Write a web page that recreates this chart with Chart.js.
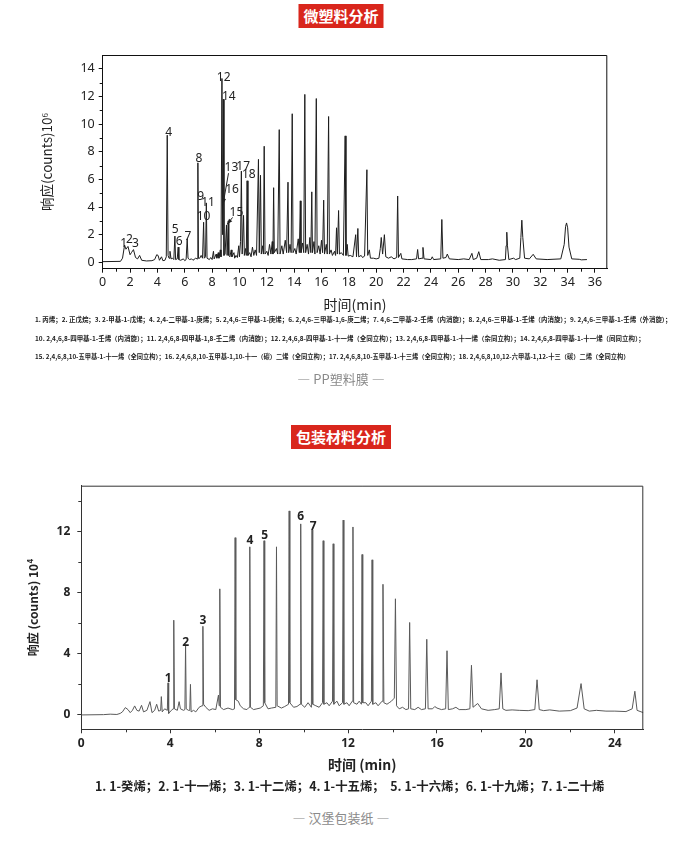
<!DOCTYPE html>
<html lang="zh">
<head>
<meta charset="UTF-8">
<title>微塑料分析 / 包装材料分析</title>
<script src="https://cdn.jsdelivr.net/npm/chart.js"></script>
<style>
  body { margin: 0; width: 682px; height: 844px; background: #fff; position: relative; overflow: hidden;
         font-family: "Noto Sans CJK SC", "Noto Sans", sans-serif; }
  .tag { position: absolute; left: 50%; transform: translateX(-50%); background: #d9261c; color: #fff;
         font-weight: bold; font-size: 15px; line-height: 24px; height: 24px; padding: 0 5px; white-space: nowrap; }
  .plot { position: absolute; left: 0; }
  .note { position: absolute; left: 35px; font-weight: bold; color: #222; white-space: nowrap; line-height: 1; }
  .cap { position: absolute; left: 0; width: 682px; text-align: center; color: #8a8a8a; font-size: 13px; line-height: 1; }
</style>
</head>
<body>
  <div class="tag" style="top:4px">微塑料分析</div>
  <div class="plot" style="top:40px"><canvas id="ppChart" width="682" height="280"></canvas></div>
  <div class="note" id="n1" data-w="637" style="top:317px;font-size:7px">1. 丙烯；2. 正戊烷；3. 2-甲基-1-戊烯；4. 2,4-二甲基-1-庚烯；5. 2,4,6-三甲基-1-庚烯；6. 2,4,6-三甲基-1,6-庚二烯；7. 4,6-二甲基-2-壬烯（内消旋）；8. 2,4,6-三甲基-1-壬烯（内消旋）；9. 2,4,6-三甲基-1-壬烯（外消旋）；</div>
  <div class="note" id="n2" data-w="611" style="top:335px;font-size:7px">10. 2,4,6,8-四甲基-1-壬烯（内消旋）；11. 2,4,6,8-四甲基-1,8-壬二烯（内消旋）；12. 2,4,6,8-四甲基-1-十一烯（全同立构）；13. 2,4,6,8-四甲基-1-十一烯（杂同立构）；14. 2,4,6,8-四甲基-1-十一烯（间同立构）；</div>
  <div class="note" id="n3" data-w="595" style="top:354px;font-size:7px">15. 2,4,6,8,10-五甲基-1-十一烯（全同立构）；16. 2,4,6,8,10-五甲基-1,10-十一（碳）二烯（全同立构）；17. 2,4,6,8,10-五甲基-1-十三烯（全同立构）；18. 2,4,6,8,10,12-六甲基-1,12-十三（碳）二烯（全同立构）</div>
  <div class="cap" style="top:372px">— PP塑料膜 —</div>

  <div class="tag" style="top:425px">包装材料分析</div>
  <div class="plot" style="top:470px"><canvas id="paperChart" width="682" height="310"></canvas></div>
  <div class="note" id="n4" data-w="510" style="top:780px;left:95px;font-size:12px">1. 1-癸烯；2. 1-十一烯；3. 1-十二烯；4. 1-十五烯；&nbsp; 5. 1-十六烯；6. 1-十九烯；7. 1-二十烯</div>
  <div class="cap" style="top:811px">— 汉堡包装纸 —</div>

<script>
// ---- PP film chromatogram (response x10^6) ----
var ppTime = [0, 1.3, 1.45, 1.6, 1.7, 1.85, 2.0, 2.1, 2.25, 2.4, 2.55, 2.7, 2.85, 3.2, 3.6, 3.8, 3.95, 4.05, 4.15, 4.3,
  4.4, 4.55, 4.65, 4.72, 4.78, 4.85, 4.92, 5.0, 5.1, 5.2, 5.28, 5.33, 5.45, 5.52, 5.57, 5.7, 5.9, 6.0, 6.1, 6.18,
  6.24, 6.35, 6.5, 6.6, 6.8, 6.9, 6.96, 7.0, 7.1, 7.2, 7.3, 7.38, 7.43, 7.52, 7.58, 7.63, 7.8, 7.9, 8.0, 8.1,
  8.15, 8.3, 8.35, 8.45, 8.5, 8.6, 8.65, 8.72, 8.77, 8.82, 8.87, 8.95, 9.05, 9.1, 9.18, 9.22, 9.3, 9.4, 9.45, 9.6,
  9.65, 9.75, 9.85, 9.95, 10.0, 10.08, 10.14, 10.2, 10.3, 10.36, 10.45, 10.5, 10.56, 10.62, 10.75, 10.85, 10.95, 11.05, 11.15, 11.25,
  11.39, 11.45, 11.54, 11.6, 11.7, 11.75, 11.81, 11.87, 12.0, 12.1, 12.2, 12.3, 12.4, 12.45, 12.5, 12.55, 12.7, 12.8, 12.91, 12.97,
  13.1, 13.2, 13.35, 13.45, 13.55, 13.6, 13.7, 13.78, 13.86, 13.92, 14.05, 14.15, 14.3, 14.38, 14.45, 14.5, 14.62, 14.7, 14.78, 14.84,
  14.95, 15.05, 15.15, 15.22, 15.29, 15.34, 15.45, 15.52, 15.62, 15.68, 15.8, 15.9, 16.0, 16.08, 16.16, 16.22, 16.35, 16.42, 16.52, 16.58,
  16.7, 16.8, 16.95, 17.03, 17.1, 17.16, 17.25, 17.31, 17.45, 17.6, 17.73, 17.79, 17.88, 17.95, 18.1, 18.3, 18.5, 18.56, 18.66, 18.72,
  18.9, 19.0, 19.15, 19.32, 19.38, 19.5, 19.58, 19.8, 20.0, 20.2, 20.3, 20.37, 20.47, 20.6, 20.7, 20.9, 21.1, 21.3, 21.5, 21.57,
  21.63, 21.8, 21.88, 22.3, 22.6, 22.95, 23.03, 23.1, 23.35, 23.42, 23.5, 24.0, 24.1, 24.2, 24.72, 24.8, 24.88, 25.1, 25.2, 25.35,
  26.0, 26.4, 26.8, 27.0, 27.1, 27.35, 27.5, 27.65, 28.2, 28.5, 29.0, 29.45, 29.5, 29.55, 29.6, 29.7, 30.04, 30.2, 30.5, 30.58,
  30.65, 30.72, 30.85, 31.2, 31.48, 31.7, 32.5, 33.5, 33.75, 33.85, 33.92, 34.0, 34.1, 34.3, 34.85, 35.0, 35.41];
var ppResp = [0.05, 0.07, 0.3, 1.25, 0.95, 1.15, 0.55, 0.7, 0.92, 0.35, 0.25, 0.5, 0.15, 0.1, 0.12, 0.2, 0.55, 0.5, 0.15, 0.4,
  0.12, 0.15, 0.4, 9.2, 0.5, 0.3, 0.8, 0.25, 0.3, 0.2, 1.9, 0.2, 0.25, 1.1, 0.2, 0.15, 0.25, 0.12, 0.2, 1.7,
  0.3, 0.2, 0.25, 0.15, 0.3, 0.25, 7.2, 0.3, 0.3, 0.5, 0.3, 2.9, 0.3, 0.4, 4.3, 0.3, 0.2, 0.35, 0.2, 0.8,
  0.25, 0.6, 0.3, 0.7, 0.3, 0.9, 0.4, 13.3, 2.0, 11.8, 0.5, 0.6, 2.7, 0.5, 3.0, 0.5, 0.4, 0.9, 0.4, 0.7,
  0.3, 0.5, 0.35, 1.2, 0.4, 1.5, 6.6, 0.6, 3.4, 0.5, 1.0, 0.5, 5.9, 0.5, 0.7, 0.4, 1.1, 0.5, 0.9, 0.5,
  7.45, 0.7, 6.3, 0.6, 1.2, 0.6, 8.4, 0.6, 0.8, 0.5, 1.3, 0.6, 1.5, 0.6, 5.4, 0.7, 1.0, 0.6, 9.6, 0.6,
  1.2, 0.6, 1.6, 0.7, 5.8, 0.7, 1.3, 0.7, 10.75, 0.7, 1.0, 0.6, 1.7, 0.7, 4.45, 0.7, 1.4, 0.7, 12.15, 0.7,
  1.3, 0.6, 1.8, 0.7, 5.1, 0.7, 1.5, 0.6, 11.85, 0.7, 1.2, 0.6, 1.6, 0.7, 4.5, 0.6, 1.3, 0.6, 10.55, 0.6,
  0.9, 0.5, 0.8, 0.5, 2.5, 0.6, 3.75, 0.6, 0.7, 0.5, 9.15, 0.5, 1.3, 0.45, 0.5, 0.4, 2.0, 0.4, 2.45, 0.4,
  0.5, 0.35, 0.45, 6.7, 0.5, 0.9, 0.3, 0.3, 0.25, 0.3, 1.0, 1.8, 0.6, 2.0, 0.4, 0.3, 0.4, 0.25, 0.35, 4.8,
  0.35, 0.65, 0.25, 0.2, 0.2, 0.25, 0.93, 0.25, 0.3, 1.08, 0.25, 0.2, 0.4, 0.2, 0.25, 3.1, 0.3, 0.35, 0.6, 0.25,
  0.2, 0.25, 0.2, 0.65, 0.2, 0.3, 0.77, 0.2, 0.2, 0.25, 0.15, 0.2, 1.2, 2.18, 1.2, 0.2, 0.3, 0.2, 0.3, 1.8,
  3.05, 1.8, 0.3, 0.25, 0.58, 0.25, 0.2, 0.25, 1.3, 2.6, 2.85, 2.5, 1.1, 0.25, 0.22, 0.18, 0.2];
var ppTickX = [0, 2, 4, 6, 8, 10, 12, 14, 16, 18, 20, 22, 24, 26, 28, 30, 32, 34, 36];
var ppMinorX = [1, 3, 5, 7, 9, 11, 13, 15, 17, 19, 21, 23, 25, 27, 29, 31, 33, 35];
var ppTickY = [0, 2, 4, 6, 8, 10, 12, 14];
var ppMinorY = [1, 3, 5, 7, 9, 11, 13];
var ppPeakNo = ['1', '2', '3', '4', '5', '6', '7', '8', '9', '10', '11', '12', '13', '14', '15', '16', '17', '18'];
var ppPeakT = [1.54, 1.96, 2.4, 4.82, 5.3, 5.6, 6.23, 7.04, 7.16, 7.38, 7.7, 8.85, 9.41, 9.22, 9.78, 9.46, 10.27, 10.68];
var ppPeakV = [1.38, 1.67, 1.38, 9.4, 2.35, 1.5, 1.86, 7.54, 4.76, 3.31, 4.35, 13.35, 6.87, 11.97, 3.63, 5.3, 6.94, 6.33];
// arrows: from label to peak (13 and 15)
var ppArrowFrom = [[9.2, 6.45], [9.5, 3.25]];
var ppArrowTo = [[8.8, 4.2], [9.1, 2.75]];

// ---- hamburger paper chromatogram (response x10^4) ----
var paperTime = [0, 1.0, 1.3, 1.6, 1.75, 1.85, 1.98, 2.1, 2.2, 2.3, 2.4, 2.5, 2.6, 2.71, 2.8, 2.95, 3.09, 3.18, 3.3, 3.39,
  3.48, 3.57, 3.6, 3.64, 3.75, 3.87, 3.9, 3.93, 4.05, 4.13, 4.16, 4.19, 4.32, 4.4, 4.46, 4.6, 4.66, 4.69, 4.72, 4.82,
  4.88, 4.91, 4.94, 5.05, 5.15, 5.3, 5.43, 5.47, 5.5, 5.6, 5.75, 5.9, 6.05, 6.17, 6.2, 6.23, 6.26, 6.4, 6.6, 6.8,
  6.89, 6.92, 6.95, 7.06, 7.15, 7.3, 7.45, 7.55, 7.58, 7.61, 7.75, 7.9, 8.05, 8.19, 8.22, 8.25, 8.4, 8.55, 8.75, 8.78,
  8.81, 9.0, 9.15, 9.32, 9.35, 9.38, 9.55, 9.7, 9.84, 9.87, 9.9, 10.05, 10.2, 10.35, 10.38, 10.41, 10.55, 10.7, 10.85, 10.88,
  10.91, 11.05, 11.15, 11.3, 11.33, 11.36, 11.5, 11.6, 11.75, 11.78, 11.81, 11.95, 12.05, 12.19, 12.22, 12.25, 12.4, 12.5, 12.6, 12.63,
  12.66, 12.8, 12.9, 13.05, 13.08, 13.11, 13.25, 13.35, 13.53, 13.57, 13.61, 13.75, 13.85, 13.95, 14.08, 14.13, 14.18, 14.3, 14.45, 14.6,
  14.72, 14.77, 14.82, 15.0, 15.15, 15.3, 15.48, 15.54, 15.6, 15.8, 15.9, 16.0, 16.2, 16.39, 16.45, 16.51, 16.7, 16.85, 17.0, 17.3,
  17.48, 17.55, 17.62, 17.83, 18.0, 18.3, 18.6, 18.8, 18.88, 18.96, 19.1, 19.38, 19.7, 20.1, 20.4, 20.5, 20.6, 20.8, 21.07, 21.5,
  22.0, 22.3, 22.48, 22.62, 22.85, 23.17, 23.6, 24.0, 24.5, 24.78, 24.9, 25.0, 25.28];
var paperResp = [0, 0.02, 0.05, 0.03, 0.1, 0.2, 0.48, 0.35, 0.15, 0.3, 0.59, 0.3, 0.25, 0.63, 0.2, 0.3, 0.87, 0.15, 0.3, 0.7,
  0.25, 0.3, 1.2, 0.2, 0.4, 0.3, 2.1, 0.1, 0.3, 0.4, 6.2, 0.4, 0.3, 0.87, 0.4, 0.3, 0.35, 4.6, 0.4, 0.3,
  0.3, 2.0, 0.2, 0.3, 0.2, 0.5, 0.6, 5.8, 0.7, 0.5, 0.3, 0.4, 0.35, 1.3, 0.6, 8.25, 0.5, 0.35, 0.45, 0.35,
  0.4, 11.6, 1.0, 0.9, 0.6, 0.4, 0.35, 0.5, 11.0, 0.5, 0.35, 0.4, 0.45, 0.6, 11.4, 0.8, 0.4, 0.45, 0.5, 11.0,
  0.6, 0.45, 0.55, 0.7, 13.35, 0.8, 0.5, 0.55, 0.7, 12.5, 0.7, 0.5, 0.8, 0.5, 12.1, 0.7, 0.6, 0.5, 0.8, 11.4,
  0.7, 0.8, 0.6, 0.9, 11.2, 0.7, 0.9, 0.6, 0.8, 12.75, 0.7, 0.8, 0.6, 0.9, 12.3, 0.8, 0.7, 0.9, 0.7, 10.5,
  0.8, 0.8, 0.6, 0.9, 10.15, 0.7, 0.8, 0.6, 0.9, 8.55, 0.8, 0.7, 0.8, 0.9, 1.1, 7.6, 0.6, 0.4, 0.5, 0.35,
  0.4, 6.05, 0.4, 0.35, 0.5, 0.35, 0.4, 4.95, 0.4, 0.4, 0.55, 0.45, 0.35, 0.4, 4.2, 0.35, 0.4, 0.5, 0.35, 0.35,
  0.4, 3.25, 0.5, 0.75, 0.4, 0.3, 0.35, 0.4, 2.75, 0.4, 0.3, 0.33, 0.3, 0.28, 0.35, 2.3, 0.35, 0.28, 0.33, 0.25,
  0.28, 0.45, 2.05, 0.4, 0.25, 0.3, 0.25, 0.25, 0.22, 0.4, 1.55, 0.3, 0.15];
var paperTickX = [0, 4, 8, 12, 16, 20, 24];
var paperMinorX = [2, 6, 10, 14, 18, 22];
var paperTickY = [0, 4, 8, 12];
var paperMinorY = [2, 6, 10, 14];
var paperPeakNo = ['1', '2', '3', '4', '5', '6', '7'];
var paperPeakT = [3.91, 4.69, 5.47, 7.58, 8.25, 9.87, 10.43];
var paperPeakV = [2.4, 4.75, 6.2, 11.4, 11.76, 12.96, 12.35];

function xy(ts, vs) { return ts.map(function (t, i) { return { x: t, y: vs[i] }; }); }

// box border, minor ticks, peak numbers and arrows
var marks = {
  id: 'marks',
  afterDraw: function (chart, args, o) {
    var ctx = chart.ctx, a = chart.chartArea, x = chart.scales.x, y = chart.scales.y;
    ctx.save();
    ctx.strokeStyle = o.axisColor;
    ctx.lineWidth = 1;
    ctx.beginPath();
    ctx.moveTo(a.left, a.top + 0.5); ctx.lineTo(a.right - 0.5, a.top + 0.5); ctx.lineTo(a.right - 0.5, a.bottom);
    o.minorX.forEach(function (v) { var px = Math.round(x.getPixelForValue(v)) + 0.5; ctx.moveTo(px, a.bottom); ctx.lineTo(px, a.bottom + 3); });
    o.minorY.forEach(function (v) { var py = Math.round(y.getPixelForValue(v)) + 0.5; ctx.moveTo(a.left, py); ctx.lineTo(a.left - 3, py); });
    ctx.stroke();

    ctx.fillStyle = '#222';
    ctx.font = o.labelFont;
    ctx.textAlign = 'center';
    ctx.textBaseline = 'middle';
    o.labels.forEach(function (s, i) {
      ctx.fillText(s, x.getPixelForValue(o.labelT[i]), y.getPixelForValue(o.labelV[i]));
    });

    ctx.strokeStyle = '#222';
    (o.arrowFrom || []).forEach(function (f, i) {
      var t = o.arrowTo[i];
      var x0 = x.getPixelForValue(f[0]), y0 = y.getPixelForValue(f[1]);
      var x1 = x.getPixelForValue(t[0]), y1 = y.getPixelForValue(t[1]);
      var ang = Math.atan2(y1 - y0, x1 - x0);
      ctx.beginPath(); ctx.moveTo(x0, y0); ctx.lineTo(x1, y1); ctx.stroke();
      ctx.beginPath();
      ctx.moveTo(x1, y1);
      ctx.lineTo(x1 - 6 * Math.cos(ang - 0.35), y1 - 6 * Math.sin(ang - 0.35));
      ctx.lineTo(x1 - 6 * Math.cos(ang + 0.35), y1 - 6 * Math.sin(ang + 0.35));
      ctx.closePath(); ctx.fill();
    });
    ctx.restore();
  }
};

function makeChart(id, cfg) {
  var tickFont = { family: 'Noto Sans', size: cfg.tickSize, weight: cfg.bold ? 'bold' : 'normal' };
  return new Chart(document.getElementById(id), {
    type: 'line',
    data: { datasets: [{ data: cfg.data, borderColor: cfg.lineColor, borderWidth: 1, pointRadius: 0, tension: 0, fill: false }] },
    plugins: [marks],
    options: {
      responsive: false,
      devicePixelRatio: 1,
      animation: false,
      parsing: false,
      layout: { padding: cfg.pad },
      plugins: {
        legend: { display: false },
        tooltip: { enabled: false },
        marks: cfg.marks
      },
      scales: {
        x: {
          type: 'linear', min: 0, max: cfg.xMax,
          afterBuildTicks: function (s) { s.ticks = cfg.tickX.map(function (v) { return { value: v }; }); },
          afterFit: function (s) { s.height = cfg.xH; },
          ticks: { autoSkip: false, maxRotation: 0, padding: cfg.xPad, color: '#222', font: tickFont },
          grid: { display: true, drawOnChartArea: false, drawTicks: true, tickLength: 4, tickColor: cfg.axisColor },
          border: { display: true, color: cfg.axisColor, width: 1 },
          title: { display: true, text: cfg.xTitle, color: '#222', padding: { top: 0, bottom: 6.6 },
                   font: { family: 'Noto Sans CJK SC', size: 14, weight: cfg.bold ? 'bold' : 'normal' } }
        },
        y: {
          min: cfg.yMin, max: 15,
          afterBuildTicks: function (s) { s.ticks = cfg.tickY.map(function (v) { return { value: v }; }); },
          afterFit: function (s) { s.width = cfg.yW; },
          ticks: { padding: cfg.yPad, color: '#222', font: tickFont },
          grid: { display: true, drawOnChartArea: false, drawTicks: true, tickLength: 4, tickColor: cfg.axisColor },
          border: { display: true, color: cfg.axisColor, width: 1 },
          title: { display: true, text: cfg.yTitle, color: '#222', padding: { top: cfg.yTitlePad, bottom: 0 },
                   font: { family: 'Noto Sans CJK SC', size: cfg.yTitleSize, weight: cfg.bold ? 'bold' : 'normal' } }
        }
      }
    }
  });
}

makeChart('ppChart', {
  data: xy(ppTime, ppResp), lineColor: '#1e1e1e', axisColor: '#111', bold: false, tickSize: 12.5,
  pad: { left: 20, right: 74.7, top: 15, bottom: 0 },
  xMax: 36.9, yMin: -0.46, tickX: ppTickX, tickY: ppTickY, xH: 51.3, yW: 82.7, xPad: 2, yPad: 4,
  xTitle: '时间(min)', yTitle: '响应(counts)10⁶', yTitleSize: 13.5, yTitlePad: 19,
  marks: { axisColor: '#111', minorX: ppMinorX, minorY: ppMinorY, labels: ppPeakNo, labelT: ppPeakT, labelV: ppPeakV,
           labelFont: '12px "Noto Sans"', arrowFrom: ppArrowFrom, arrowTo: ppArrowTo }
});

makeChart('paperChart', {
  data: xy(paperTime, paperResp), lineColor: '#5a5a5a', axisColor: '#333', bold: true, tickSize: 12,
  pad: { left: 20, right: 38.7, top: 15.7, bottom: 0 },
  xMax: 25.28, yMin: -0.94, tickX: paperTickX, tickY: paperTickY, xH: 50.7, yW: 61.3, xPad: 3, yPad: 7,
  xTitle: '时间 (min)', yTitle: '响应 (counts) 10⁴', yTitleSize: 12, yTitlePad: 5.8,
  marks: { axisColor: '#333', minorX: paperMinorX, minorY: paperMinorY, labels: paperPeakNo, labelT: paperPeakT, labelV: paperPeakV,
           labelFont: 'bold 12px "Noto Sans"', arrowFrom: [], arrowTo: [] }
});

// fit the small compound lists to their widths
['n1', 'n2', 'n3', 'n4'].forEach(function (id) {
  var el = document.getElementById(id);
  var target = +el.getAttribute('data-w');
  var fs = parseFloat(el.style.fontSize);
  el.style.fontSize = (fs * target / el.scrollWidth).toFixed(2) + 'px';
});
</script>
</body>
</html>
